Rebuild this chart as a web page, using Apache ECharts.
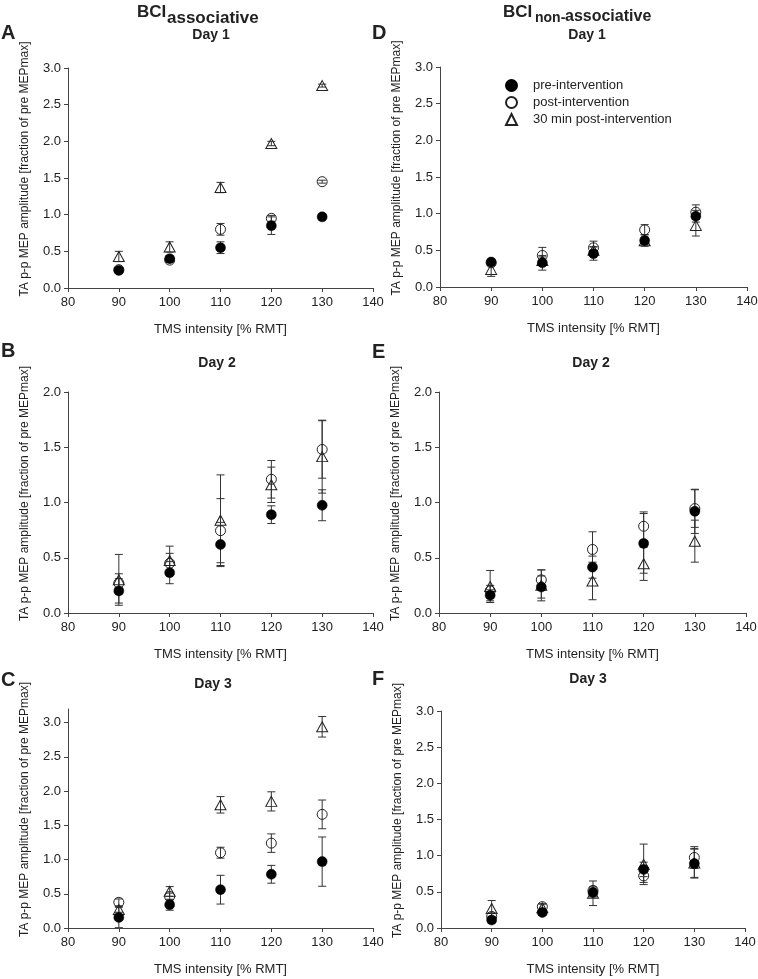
<!DOCTYPE html>
<html>
<head>
<meta charset="utf-8">
<script src="https://cdn.jsdelivr.net/npm/echarts@6/dist/echarts.min.js"></script>
<style>
    html, body { margin: 0; padding: 0; background: #fff; }
    #main { width: 758px; height: 979px; }
</style>
</head>
<body>
<div id="main"></div>
<script>
    // TMS intensity [% RMT]
    var intensity = [90, 100, 110, 120, 130];
    var groupNames = ['pre-intervention', 'post-intervention', '30 min post-intervention'];
    var yTicks = [0, 0.5, 1, 1.5, 2, 2.5, 3];

    // A - BCI associative, day 1
    var aPre = [0.24, 0.40, 0.55, 0.85, 0.97];
    var aPreErr = [0.03, 0.04, 0.08, 0.12, 0.03];
    var aPost = [0.25, 0.38, 0.80, 0.95, 1.45];
    var aPostErr = [0.03, 0.03, 0.08, 0.04, 0.02];
    var aTri = [0.43, 0.56, 1.37, 1.97, 2.76];
    var aTriErr = [0.07, 0.07, 0.07, 0.03, 0.02];

    // B - BCI associative, day 2
    var bPre = [0.20, 0.365, 0.62, 0.89, 0.975];
    var bPreErr = [0.11, 0.10, 0.20, 0.08, 0.14];
    var bPost = [0.27, 0.45, 0.745, 1.21, 1.48];
    var bPostErr = [0.085, 0.09, 0.29, 0.17, 0.26];
    var bTri = [0.30, 0.475, 0.84, 1.16, 1.415];
    var bTriErr = [0.23, 0.13, 0.41, 0.16, 0.33];

    // C - BCI associative, day 3
    var cPre = [0.155, 0.34, 0.56, 0.785, 0.97];
    var cPreErr = [0.15, 0.08, 0.21, 0.13, 0.36];
    var cPost = [0.375, 0.46, 1.10, 1.24, 1.66];
    var cPostErr = [0.05, 0.05, 0.08, 0.135, 0.21];
    var cTri = [0.27, 0.535, 1.80, 1.85, 2.94];
    var cTriErr = [0.04, 0.07, 0.12, 0.14, 0.15];

    // D - BCI non-associative, day 1
    var dPre = [0.34, 0.33, 0.455, 0.635, 0.965];
    var dPreErr = [0.04, 0.10, 0.09, 0.08, 0.08];
    var dPost = [0.33, 0.43, 0.535, 0.78, 1.02];
    var dPostErr = [0.04, 0.11, 0.09, 0.07, 0.10];
    var dTri = [0.24, 0.36, 0.50, 0.63, 0.84];
    var dTriErr = [0.095, 0.05, 0.05, 0.05, 0.145];

    // E - BCI non-associative, day 2
    var ePre = [0.16, 0.235, 0.415, 0.63, 0.92];
    var ePreErr = [0.05, 0.10, 0.10, 0.27, 0.20];
    var ePost = [0.20, 0.30, 0.575, 0.785, 0.945];
    var ePostErr = [0.05, 0.09, 0.16, 0.13, 0.17];
    var eTri = [0.24, 0.25, 0.29, 0.445, 0.65];
    var eTriErr = [0.145, 0.14, 0.17, 0.15, 0.19];

    // F - BCI non-associative, day 3
    var fPre = [0.11, 0.215, 0.49, 0.81, 0.89];
    var fPreErr = [0.04, 0.04, 0.06, 0.10, 0.20];
    var fPost = [0.16, 0.295, 0.52, 0.72, 0.975];
    var fPostErr = [0.05, 0.04, 0.05, 0.09, 0.15];
    var fTri = [0.27, 0.28, 0.48, 0.88, 0.90];
    var fTriErr = [0.11, 0.05, 0.17, 0.28, 0.20];

    var FONT = 'Liberation Sans, Arial, sans-serif';
    var INK = '#222';
    var AXIS = '#444';

    var panels = [
        {grid: {left: 68, top: 68, width: 305, height: 220}, yMax: 3, groups: [[aPre, aPreErr], [aPost, aPostErr], [aTri, aTriErr]]},
        {grid: {left: 68, top: 392, width: 305, height: 221}, yMax: 2, groups: [[bPre, bPreErr], [bPost, bPostErr], [bTri, bTriErr]]},
        {grid: {left: 68, top: 709, width: 305, height: 219}, yMax: 3.2, groups: [[cPre, cPreErr], [cPost, cPostErr], [cTri, cTriErr]]},
        {grid: {left: 440, top: 67, width: 307, height: 220}, yMax: 3, groups: [[dPre, dPreErr], [dPost, dPostErr], [dTri, dTriErr]]},
        {grid: {left: 439, top: 392, width: 307, height: 221}, yMax: 2, groups: [[ePre, ePreErr], [ePost, ePostErr], [eTri, eTriErr]]},
        {grid: {left: 441, top: 711, width: 304, height: 217}, yMax: 3, groups: [[fPre, fPreErr], [fPost, fPostErr], [fTri, fTriErr]]}
    ];

    // marker look for each group
    var markers = [
        {symbol: 'circle', size: 10, style: {color: '#000', borderColor: '#000', borderWidth: 0.5, opacity: 1}},
        {symbol: 'circle', size: 10, style: {color: 'rgba(255,255,255,0)', borderColor: '#222', borderWidth: 1, opacity: 1}},
        {symbol: 'triangle', size: [11, 10], style: {color: 'rgba(255,255,255,0)', borderColor: '#222', borderWidth: 1, opacity: 1}}
    ];

    function errorBar(params, api) {
        var x = api.value(0);
        var lo = api.coord([x, api.value(1)]);
        var hi = api.coord([x, api.value(2)]);
        var cap = 4;
        var st = {stroke: '#333', lineWidth: 1};
        return {
            type: 'group',
            children: [
                {type: 'line', shape: {x1: lo[0], y1: lo[1], x2: hi[0], y2: hi[1]}, style: st},
                {type: 'line', shape: {x1: lo[0] - cap, y1: lo[1], x2: lo[0] + cap, y2: lo[1]}, style: st},
                {type: 'line', shape: {x1: hi[0] - cap, y1: hi[1], x2: hi[0] + cap, y2: hi[1]}, style: st}
            ]
        };
    }

    var grids = [], xAxes = [], yAxes = [], series = [];
    panels.forEach(function (p, k) {
        var ticks = yTicks.filter(function (v) { return v <= p.yMax; });
        grids.push(Object.assign({outerBoundsMode: 'none', containLabel: false}, p.grid));
        xAxes.push({
            type: 'value', gridIndex: k, min: 80, max: 140, interval: 10,
            name: 'TMS intensity [% RMT]', nameLocation: 'middle', nameGap: 35,
            nameTextStyle: {fontFamily: FONT, fontSize: 13, color: INK},
            axisLine: {lineStyle: {color: AXIS, width: 1}},
            axisTick: {inside: false, length: 4, lineStyle: {color: AXIS}},
            axisLabel: {fontFamily: FONT, fontSize: 13, color: INK, margin: 8},
            splitLine: {show: false}
        });
        yAxes.push({
            type: 'value', gridIndex: k, min: 0, max: p.yMax, interval: 0.5,
            name: 'TA p-p MEP amplitude [fraction of pre MEPmax]', nameLocation: 'middle', nameGap: 37,
            nameTextStyle: {fontFamily: FONT, fontSize: 12, color: INK, padding: [0, 0, 0, 18]},
            axisLine: {show: true, lineStyle: {color: AXIS, width: 1}},
            axisTick: {show: true, inside: false, length: 4, lineStyle: {color: AXIS}, customValues: ticks},
            axisLabel: {fontFamily: FONT, fontSize: 13, color: INK, margin: 7, customValues: ticks,
                formatter: function (v) { return v.toFixed(1); }},
            splitLine: {show: false}
        });
        // error bars first so the markers sit on top
        p.groups.forEach(function (g) {
            series.push({
                type: 'custom', xAxisIndex: k, yAxisIndex: k, z: 2, silent: true,
                renderItem: errorBar,
                encode: {x: 0, y: [1, 2]},
                data: intensity.map(function (x, i) { return [x, g[0][i] - g[1][i], g[0][i] + g[1][i]]; })
            });
        });
        [2, 1, 0].forEach(function (j) {
            var g = p.groups[j], m = markers[j];
            series.push({
                type: 'scatter', name: groupNames[j], xAxisIndex: k, yAxisIndex: k, z: 3 + (2 - j),
                symbol: m.symbol, symbolSize: m.size, itemStyle: m.style,
                emphasis: {disabled: true},
                data: intensity.map(function (x, i) { return [x, g[0][i]]; })
            });
        });
    });

    function txt(x, y, s, size, align) {
        return {
            type: 'text', x: x, y: y, silent: true,
            style: {
                text: s, fill: INK,
                font: 'bold ' + size + 'px ' + FONT,
                textAlign: align || 'left', textVerticalAlign: 'middle'
            }
        };
    }

    var graphics = [
        txt(137, 12.5, 'BCI', 17), txt(167, 18, 'associative', 17),
        txt(503, 12, 'BCI', 17), txt(535, 18.5, 'non-', 14), txt(565, 16.5, 'associative', 16),
        txt(211, 35, 'Day 1', 14, 'center'), txt(587, 35, 'Day 1', 14, 'center'),
        txt(217, 363, 'Day 2', 14, 'center'), txt(591, 363, 'Day 2', 14, 'center'),
        txt(213, 684, 'Day 3', 14, 'center'), txt(588, 679, 'Day 3', 14, 'center'),
        txt(1, 33, 'A', 20), txt(1, 351, 'B', 20), txt(1, 680, 'C', 20),
        txt(372, 33, 'D', 20), txt(372, 352, 'E', 20), txt(372, 679, 'F', 20)
    ];

    var chart = echarts.init(document.getElementById('main'), null, {renderer: 'canvas'});
    chart.setOption({
        animation: false,
        backgroundColor: '#fff',
        textStyle: {fontFamily: FONT},
        grid: grids,
        xAxis: xAxes,
        yAxis: yAxes,
        legend: {
            data: groupNames, orient: 'vertical', left: 500, top: 74,
            itemWidth: 11, itemHeight: 11, itemGap: 4,
            textStyle: {fontFamily: FONT, fontSize: 13, color: INK, lineHeight: 12, padding: [0, 0, 0, 11]},
            selectedMode: false
        },
        graphic: graphics,
        series: series
    });
</script>
</body>
</html>
